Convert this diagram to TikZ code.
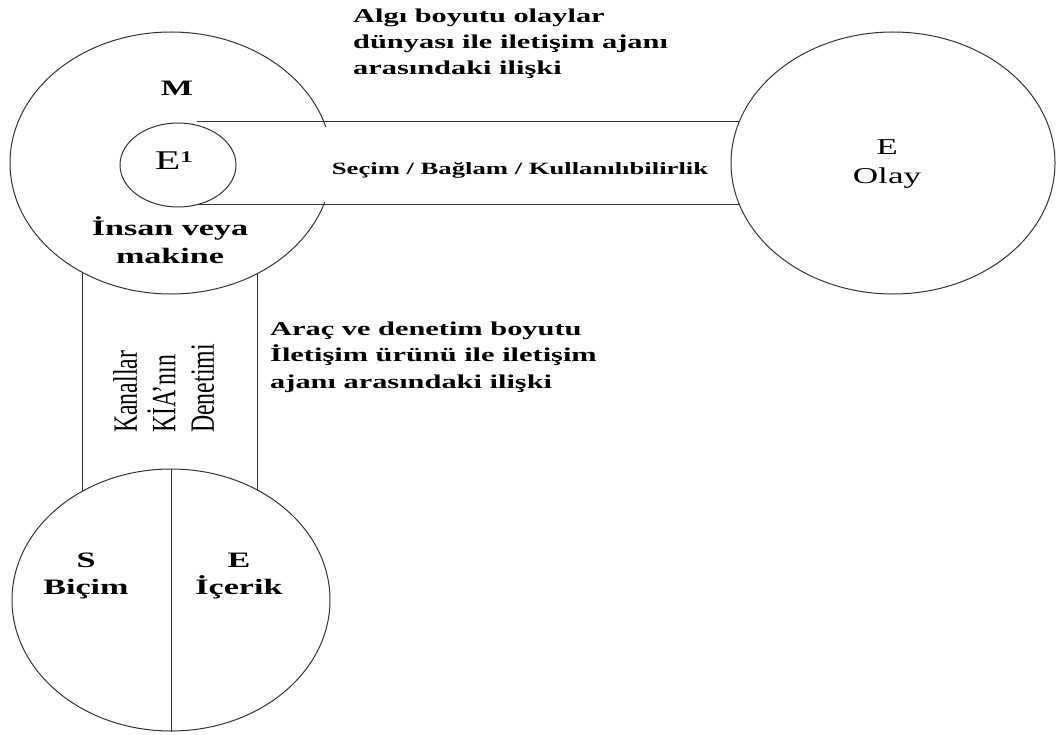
\documentclass[tikz,border=0pt]{standalone}
\usepackage{fontspec}
\setmainfont{Liberation Serif}
% widened serif for the horizontal labels, narrowed one for the upright column
\newfontfamily\wideserif{Liberation Serif}[FakeStretch=1.55]
\newfontfamily\narrowserif{Liberation Serif}[FakeStretch=0.7]
\usetikzlibrary{shapes.geometric}

\begin{document}
\begin{tikzpicture}[x=1pt,y=-1pt,
  outline/.style={draw=black!80, line width=1pt},
  bubble/.style={ellipse, outline, inner sep=0pt},
  lbl/.style={inner sep=0pt, text=black},
  note/.style={lbl, align=left, font=\wideserif\bfseries\fontsize{19.6}{26.3}\selectfont},
]
\useasboundingbox (0,0) rectangle (1059,735);

% agent (human or machine) with its inner event
\node[bubble, minimum width=322pt, minimum height=262pt] (M) at (171,163) {};
% event
\node[bubble, minimum width=324pt, minimum height=262pt] (Olay) at (893,163) {};
% product: form and content
\node[bubble, minimum width=318pt, minimum height=262pt] (B) at (171,600) {};

% open the agent's rim where the horizontal band leaves it
\fill[white] (245,127) rectangle (700,202);

\node[bubble, fill=white, minimum width=116pt, minimum height=84pt] (E1) at (178,165) {};

% horizontal band: selection / context / usability
\draw[outline] (E1.65 |- Olay.165.8) -- (Olay.165.8);
\draw[outline] (E1.-65 |- Olay.195.3) -- (Olay.195.3);

% vertical band: channels, control
\draw[outline] (M.231.05) -- (M.231.05 |- B.129.1);
\draw[outline] (M.308.04) -- (M.308.04 |- B.51.8);

% split between form and content
\draw[outline] (B.north) -- (B.south);

% labels (a multi-line node's base is its last line's baseline)
\node[lbl, anchor=base, font=\wideserif\bfseries\fontsize{22}{26}\selectfont] (lM) at (177,96) {M};
\node[lbl, anchor=base, font=\wideserif\fontsize{27}{30}\selectfont] (lE1) at (174,170) {E¹};
\node[lbl, anchor=base, align=center, font=\wideserif\bfseries\fontsize{22}{28}\selectfont] (lM2) at (170,263) {İnsan veya\\makine};

\node[lbl, anchor=base, align=center, font=\wideserif\fontsize{22.7}{29}\selectfont] (lOlay) at (887,184) {E\\Olay};

\node[lbl, anchor=base, font=\wideserif\bfseries\fontsize{17.2}{20}\selectfont] (lband) at (520,175) {Seçim / Bağlam / Kullanılıbilirlik};

\node[lbl, anchor=base, align=center, font=\wideserif\bfseries\fontsize{22}{27}\selectfont] (lS) at (86,594) {S\\Biçim};
\node[lbl, anchor=base, align=center, font=\wideserif\bfseries\fontsize{22}{27}\selectfont] (lE) at (239,594) {E\\İçerik};

\node[note, anchor=base west] (top) at (353,75) {Algı boyutu olaylar\\dünyası ile iletişim ajanı\\arasındaki ilişki};
\node[note, anchor=base west] (side) at (270,388) {Araç ve denetim boyutu\\İletişim ürünü ile iletişim\\ajanı arasındaki ilişki};

\node[lbl, rotate=90, anchor=north west, align=left, font=\narrowserif\fontsize{34}{38.5}\selectfont] (lK) at (113,433) {Kanallar\\KİA’nın\\Denetimi};
\end{tikzpicture}
\end{document}
